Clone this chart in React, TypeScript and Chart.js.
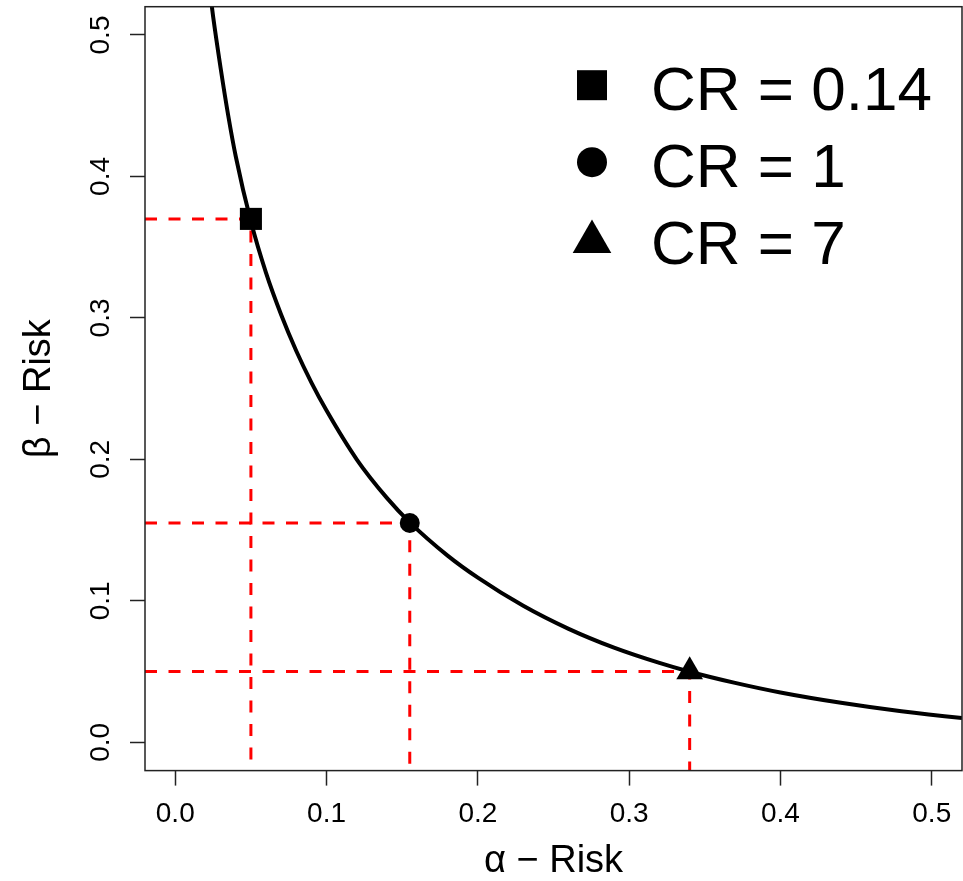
import React, { useEffect, useRef } from "react";
import { Chart, registerables } from "chart.js";

Chart.register(...registerables);

// ---- data ----
const curveAlpha = [0.021, 0.025, 0.03, 0.035, 0.04, 0.05, 0.06, 0.07, 0.08, 0.09, 0.1, 0.12, 0.14, 0.155, 0.18, 0.2, 0.23, 0.26, 0.29, 0.32, 0.34, 0.37, 0.4, 0.44, 0.48, 0.52, 0.53];
const curveBeta = [0.5474, 0.5132, 0.4765, 0.4431, 0.4141, 0.3681, 0.3318, 0.3022, 0.2766, 0.2543, 0.2345, 0.1999, 0.1726, 0.1555, 0.132, 0.1164, 0.0965, 0.0802, 0.0669, 0.0561, 0.0499, 0.042, 0.0352, 0.0279, 0.0219, 0.0171, 0.0161];

const pointLabels = ["CR = 0.14", "CR = 1", "CR = 7"];
const pointAlpha = [0.05, 0.155, 0.34];
const pointBeta = [0.37, 0.155, 0.05];
const pointShapes = ["rect", "circle", "triangle"];

const xTicks = [0, 0.1, 0.2, 0.3, 0.4, 0.5];
const xTickLabels = ["0.0", "0.1", "0.2", "0.3", "0.4", "0.5"];
const yTicks = [0, 0.1, 0.2, 0.3, 0.4, 0.5];
const yTickLabels = ["0.0", "0.1", "0.2", "0.3", "0.4", "0.5"];
const axisMin = -0.02;
const axisMax = 0.52;
const xTitle = "α − Risk";
const yTitle = "β − Risk";

const FONT = '"Liberation Sans", Arial, sans-serif';

const zeroPadding = (s: any) => {
  s.paddingLeft = 0;
  s.paddingRight = 0;
  s.paddingTop = 0;
  s.paddingBottom = 0;
};

const boxPlugin = {
  id: "boxPlugin",
  afterDatasetsDraw(chart: any) {
    const { ctx, chartArea } = chart;
    ctx.save();
    ctx.strokeStyle = "#222";
    ctx.lineWidth = 1.5;
    ctx.strokeRect(chartArea.left, chartArea.top, chartArea.right - chartArea.left, chartArea.bottom - chartArea.top);
    ctx.restore();
  },
};

const legendPlugin = {
  id: "legendPlugin",
  afterDraw(chart: any) {
    const { ctx, chartArea } = chart;
    const markerX = chartArea.left + 447;
    const textX = chartArea.left + 506;
    const firstBaseline = chartArea.top + 103.5;
    const rowGap = 77;
    ctx.save();
    ctx.fillStyle = "#000";
    ctx.font = `62px ${FONT}`;
    ctx.textBaseline = "alphabetic";
    ctx.textAlign = "left";
    pointLabels.forEach((label, i) => {
      const base = firstBaseline + i * rowGap;
      ctx.fillText(label, textX, base);
      const shape = pointShapes[i];
      ctx.beginPath();
      if (shape === "rect") {
        const cy = base - 25;
        ctx.rect(markerX - 15, cy - 15, 30, 30);
      } else if (shape === "circle") {
        const cy = base - 25;
        ctx.arc(markerX, cy, 15, 0, Math.PI * 2);
      } else {
        const cy = base - 22.4;
        const r = 22.3;
        ctx.moveTo(markerX, cy - r);
        ctx.lineTo(markerX + r * Math.sin((2 * Math.PI) / 3), cy + r / 2);
        ctx.lineTo(markerX - r * Math.sin((2 * Math.PI) / 3), cy + r / 2);
        ctx.closePath();
      }
      ctx.fill();
    });
    ctx.restore();
  },
};

export default function App() {
  const ref = useRef<HTMLCanvasElement>(null);

  useEffect(() => {
    const curveData = curveAlpha.map((a, i) => ({ x: a, y: curveBeta[i] }));
    const pointData = pointAlpha.map((a, i) => ({ x: a, y: pointBeta[i] }));
    const guideSets = pointAlpha.map((a, i) => ({
      type: "line" as const,
      label: "guide " + pointLabels[i],
      data: [
        { x: axisMin, y: pointBeta[i] },
        { x: a, y: pointBeta[i] },
        { x: a, y: axisMin },
      ],
      borderColor: "#ff0000",
      borderWidth: 3,
      borderDash: [12, 11.5],
      pointRadius: 0,
      tension: 0,
      fill: false,
      clip: 0,
      order: 3,
    }));

    const chart = new Chart(ref.current as HTMLCanvasElement, {
      type: "line",
      data: {
        datasets: [
          {
            type: "scatter",
            label: "points",
            data: pointData,
            pointStyle: pointShapes as any,
            pointRadius: [15.6, 10, 15.4],
            pointBackgroundColor: "#000",
            pointBorderColor: "#000",
            pointBorderWidth: 0,
            showLine: false,
            order: 1,
            clip: false,
          } as any,
          {
            type: "line",
            label: "curve",
            data: curveData,
            borderColor: "#000",
            borderWidth: 4,
            pointRadius: 0,
            cubicInterpolationMode: "monotone",
            fill: false,
            clip: 0,
            order: 2,
          } as any,
          ...guideSets,
        ],
      },
      options: {
        responsive: false,
        animation: false,
        events: [],
        layout: { autoPadding: false, padding: { top: 6.7, right: 1, left: 0, bottom: 0 } },
        plugins: {
          legend: { display: false },
          tooltip: { enabled: false },
        },
        scales: {
          x: {
            type: "linear",
            min: axisMin,
            max: axisMax,
            afterBuildTicks: (s: any) => {
              s.ticks = xTicks.map((v) => ({ value: v }));
            },
            afterFit: (s: any) => {
              s.height = 110.4;
              zeroPadding(s);
            },
            grid: {
              display: true,
              drawOnChartArea: false,
              drawTicks: true,
              tickLength: 15,
              tickColor: "#222",
              tickWidth: 1.5,
            },
            border: { display: false },
            ticks: {
              autoSkip: false,
              minRotation: 0,
              maxRotation: 0,
              padding: 12,
              color: "#000",
              font: { family: FONT, size: 28 },
              callback: (_v: any, i: number) => xTickLabels[i],
            },
            title: {
              display: true,
              text: xTitle,
              color: "#000",
              font: { family: FONT, size: 38, lineHeight: 1 },
              padding: { top: 0, bottom: 0 },
            },
          },
          y: {
            type: "linear",
            min: axisMin,
            max: axisMax,
            afterBuildTicks: (s: any) => {
              s.ticks = yTicks.map((v) => ({ value: v }));
            },
            afterFit: (s: any) => {
              s.width = 145;
              zeroPadding(s);
            },
            grid: {
              display: true,
              drawOnChartArea: false,
              drawTicks: true,
              tickLength: 15,
              tickColor: "#222",
              tickWidth: 1.5,
            },
            border: { display: false },
            ticks: {
              autoSkip: false,
              minRotation: 90,
              maxRotation: 90,
              crossAlign: "center",
              padding: 9,
              color: "#000",
              font: { family: FONT, size: 28 },
              callback: (_v: any, i: number) => yTickLabels[i],
            },
            title: {
              display: true,
              text: yTitle,
              color: "#000",
              font: { family: FONT, size: 38, lineHeight: 1 },
              padding: { top: 21, bottom: 0 },
            },
          },
        },
      } as any,
      plugins: [boxPlugin, legendPlugin],
    });
    return () => chart.destroy();
  }, []);

  return (
    <div style={{ position: "fixed", left: 0, top: 0, width: 963, height: 881, background: "#fff" }}>
      <canvas ref={ref} width={963} height={881} style={{ display: "block", width: 963, height: 881 }} />
    </div>
  );
}
